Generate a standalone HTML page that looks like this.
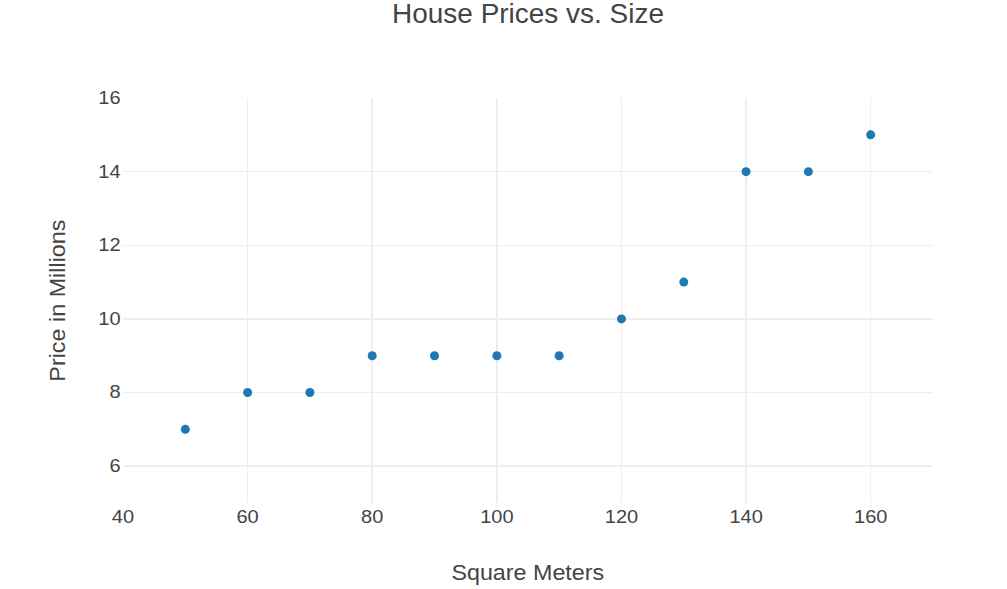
<!DOCTYPE html><html><head><meta charset="utf-8"><style>html,body{margin:0;padding:0;background:#fff;}svg{display:block;}text{font-family:"Liberation Sans",sans-serif;fill:#444;}</style></head><body>
<svg width="1007" height="589" viewBox="0 0 1007 589">
<rect x="0" y="0" width="1007" height="589" fill="#fff"/>
<g stroke="#eeeeee" stroke-width="1.5" shape-rendering="crispEdges"><line x1="247.62" y1="98.0" x2="247.62" y2="503.0"/><line x1="372.23" y1="98.0" x2="372.23" y2="503.0"/><line x1="496.85" y1="98.0" x2="496.85" y2="503.0"/><line x1="621.46" y1="98.0" x2="621.46" y2="503.0"/><line x1="746.08" y1="98.0" x2="746.08" y2="503.0"/><line x1="870.69" y1="98.0" x2="870.69" y2="503.0"/><line x1="123.0" y1="466.18" x2="933.0" y2="466.18"/><line x1="123.0" y1="392.55" x2="933.0" y2="392.55"/><line x1="123.0" y1="318.91" x2="933.0" y2="318.91"/><line x1="123.0" y1="245.27" x2="933.0" y2="245.27"/><line x1="123.0" y1="171.64" x2="933.0" y2="171.64"/></g>
<g fill="#1f77b4"><circle cx="185.31" cy="429.36" r="4.5"/><circle cx="247.62" cy="392.55" r="4.5"/><circle cx="309.92" cy="392.55" r="4.5"/><circle cx="372.23" cy="355.73" r="4.5"/><circle cx="434.54" cy="355.73" r="4.5"/><circle cx="496.85" cy="355.73" r="4.5"/><circle cx="559.15" cy="355.73" r="4.5"/><circle cx="621.46" cy="318.91" r="4.5"/><circle cx="683.77" cy="282.09" r="4.5"/><circle cx="746.08" cy="171.64" r="4.5"/><circle cx="808.38" cy="171.64" r="4.5"/><circle cx="870.69" cy="134.82" r="4.5"/></g>
<text transform="translate(528.00,22.90) scale(1.028,1)" font-size="27.2" text-anchor="middle">House Prices vs. Size</text>
<text transform="translate(123.00,522.70) scale(1.1,1)" font-size="18.2" text-anchor="middle">40</text>
<text transform="translate(247.62,522.70) scale(1.1,1)" font-size="18.2" text-anchor="middle">60</text>
<text transform="translate(372.23,522.70) scale(1.1,1)" font-size="18.2" text-anchor="middle">80</text>
<text transform="translate(496.85,522.70) scale(1.1,1)" font-size="18.2" text-anchor="middle">100</text>
<text transform="translate(621.46,522.70) scale(1.1,1)" font-size="18.2" text-anchor="middle">120</text>
<text transform="translate(746.08,522.70) scale(1.1,1)" font-size="18.2" text-anchor="middle">140</text>
<text transform="translate(870.69,522.70) scale(1.1,1)" font-size="18.2" text-anchor="middle">160</text>
<text transform="translate(120.60,472.08) scale(1.1,1)" font-size="18.2" text-anchor="end">6</text>
<text transform="translate(120.60,398.45) scale(1.1,1)" font-size="18.2" text-anchor="end">8</text>
<text transform="translate(120.60,324.81) scale(1.1,1)" font-size="18.2" text-anchor="end">10</text>
<text transform="translate(120.60,251.17) scale(1.1,1)" font-size="18.2" text-anchor="end">12</text>
<text transform="translate(120.60,177.54) scale(1.1,1)" font-size="18.2" text-anchor="end">14</text>
<text transform="translate(120.60,103.90) scale(1.1,1)" font-size="18.2" text-anchor="end">16</text>
<text transform="translate(527.80,580.30) scale(1.055,1)" font-size="22.1" text-anchor="middle">Square Meters</text>
<text transform="translate(65.40,300.60) rotate(-90) scale(1.057,1)" font-size="22.1" text-anchor="middle">Price in Millions</text>
</svg></body></html>
